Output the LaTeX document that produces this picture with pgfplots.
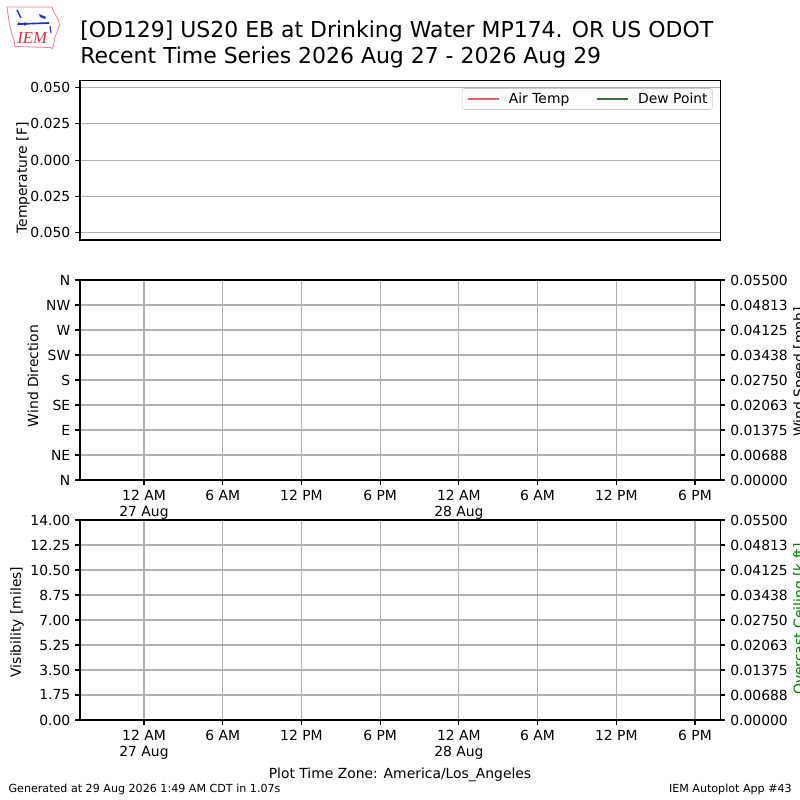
\documentclass[border=0pt]{standalone}
\usepackage{pgfplots}
\pgfplotsset{compat=1.18}
\usepackage{fontspec}
\setmainfont{DejaVu Sans}
\newfontfamily\logofont{Liberation Serif}
\definecolor{gridgray}{HTML}{B0B0B0}
\definecolor{airtemp}{HTML}{E0606C}
\definecolor{dewpt}{HTML}{3A6E3A}
\definecolor{ceilgreen}{HTML}{008000}
\definecolor{logored}{HTML}{E03040}
\definecolor{logoblue}{HTML}{2030D0}
\newcommand\tf{\fontsize{10bp}{11.7bp}\selectfont}
\pgfplotsset{
  every axis/.append style={
    scale only axis, width=461.2bp, xmin=-4.88, xmax=43.95,
    axis line style={line width=0.8bp, black},
    every tick/.style={line width=0.8bp, black},
    major tick length=3.5bp, tick align=outside,
    grid style={line width=0.8bp, gridgray},
    tick label style={font=\tf},
    scaled y ticks=false, scaled x ticks=false,
  },
  twin/.style={
    at={(57.6bp,#1)}, anchor=south west, height=144bp,
    hide x axis, xtick=\empty, axis y line*=right, ytick pos=right,
    ymin=0, ymax=0.055,
    ytick={0,0.006875,0.01375,0.020625,0.0275,0.034375,0.04125,0.048125,0.055},
    yticklabels={0.00000,0.00688,0.01375,0.02063,0.02750,0.03438,0.04125,0.04813,0.05500},
  },
}
\begin{document}
\begin{tikzpicture}
\begin{scope}[x=0.72bp,y=0.72bp]
\path[use as bounding box] (0,0) rectangle (800,800);
% title
\node[anchor=base west, inner sep=0pt, font=\fontsize{15.8bp}{19bp}\selectfont] at (80,762.5) {[OD129] US20 EB at Drinking Water MP174. OR US ODOT};
\node[anchor=base west, inner sep=0pt, font=\fontsize{15.8bp}{19bp}\selectfont] at (80,736) {Recent Time Series 2026 Aug 27 - 2026 Aug 29};
% logo
\begin{scope}[shift={(0,800)}, yscale=-1]
\draw[logored!60, line width=0.6bp] (7,7) -- (52,7) -- (53.5,11.5) -- (56.5,16.5) -- (58.5,20) -- (59.5,25) -- (57.5,31.5) -- (55,36.5) -- (54,43) -- (52.7,48.5) -- (50,47.5) -- (15,46.5) -- (14,40) -- (11.7,33.5) -- (10,26.5) -- (8.3,16.5) -- cycle;
\draw[logoblue, line width=1.2bp] (20,24) -- (49,23);
\fill[logoblue] (25,24) circle (1.8);
\draw[logoblue, line width=1bp] (17,10) -- (19,14) -- (21,18);
\fill[logoblue] (39,14) -- (46,17) -- (45,19) -- (40,17) -- cycle;
\draw[logoblue, line width=0.8bp] (50,26) -- (51,33);
\fill[logoblue] (19,22) -- (21,25) -- (17,25) -- cycle;
\end{scope}
\node[anchor=base west, inner sep=0pt, logored, font=\logofont\itshape\fontsize{12bp}{14bp}\selectfont] at (17,756) {IEM};
% axis labels
\node[rotate=90, inner sep=0pt, font=\tf] at (23,622) {Temperature [F]};
\node[rotate=90, inner sep=0pt, font=\tf] at (33,424) {Wind Direction};
\node[rotate=90, inner sep=0pt, font=\tf] at (17,178) {Visibility [miles]};
\node[rotate=90, anchor=north, inner sep=0pt, font=\tf] at (793,428) {Wind Speed [mph]};
\node[rotate=90, anchor=north, inner sep=0pt, font=\tf, ceilgreen] at (793,181) {Overcast Ceiling [k ft]};
% footer
\node[anchor=base, inner sep=0pt, font=\tf] at (400,21) {Plot Time Zone: America/Los\_Angeles};
\node[anchor=base west, inner sep=0pt, font=\fontsize{8bp}{9.6bp}\selectfont] at (8.3,7) {Generated at 29 Aug 2026 1:49 AM CDT in 1.07s};
\node[anchor=base east, inner sep=0pt, font=\fontsize{8bp}{9.6bp}\selectfont] at (792,7) {IEM Autoplot App \#43};
\end{scope}

% ---------- top: temperature ----------
\begin{axis}[at={(57.6bp,403.2bp)}, anchor=south west, height=115bp,
  ymin=-0.055, ymax=0.055,
  ytick={-0.05,-0.025,0,0.025,0.05},
  yticklabels={0.050,0.025,0.000,0.025,0.050},
  xtick=\empty, ymajorgrids, ytick pos=left,
  legend columns=2, legend cell align=left,
  legend image code/.code={\draw[#1] (0bp,0bp) -- (22bp,0bp);},
  legend style={at={(0.988,0.95)}, anchor=north east, draw=black!20, fill=white,
    rounded corners=2bp, font=\tf, inner xsep=3.6bp, inner ysep=3bp,
    nodes={inner sep=0pt},
    /tikz/every odd column/.append style={column sep=6.5bp},
    /tikz/every even column/.append style={column sep=19.4bp}},
]
\addlegendimage{airtemp, line width=1.6bp}
\addlegendentry{Air Temp}
\addlegendimage{dewpt, line width=1.6bp}
\addlegendentry{Dew Point}
\end{axis}

% ---------- middle: wind ----------
\begin{axis}[at={(57.6bp,230.4bp)}, anchor=south west, height=144bp,
  ymin=0, ymax=360, ytick={0,45,...,360},
  yticklabels={N,NE,E,SE,S,SW,W,NW,N},
  xtick={0,6,...,42},
  xticklabels={{12 AM\\27 Aug},6 AM,12 PM,6 PM,{12 AM\\28 Aug},6 AM,12 PM,6 PM},
  xticklabel style={align=center},
  xmajorgrids, ymajorgrids, xtick pos=bottom, ytick pos=left,
]
\end{axis}
\begin{axis}[twin=230.4bp]
\end{axis}

% ---------- bottom: visibility ----------
\begin{axis}[at={(57.6bp,57.6bp)}, anchor=south west, height=144bp,
  ymin=0, ymax=14, ytick={0,1.75,...,14},
  yticklabels={0.00,1.75,3.50,5.25,7.00,8.75,10.50,12.25,14.00},
  xtick={0,6,...,42},
  xticklabels={{12 AM\\27 Aug},6 AM,12 PM,6 PM,{12 AM\\28 Aug},6 AM,12 PM,6 PM},
  xticklabel style={align=center},
  xmajorgrids, ymajorgrids, xtick pos=bottom, ytick pos=left,
]
\end{axis}
\begin{axis}[twin=57.6bp]
\end{axis}
\end{tikzpicture}
\end{document}
